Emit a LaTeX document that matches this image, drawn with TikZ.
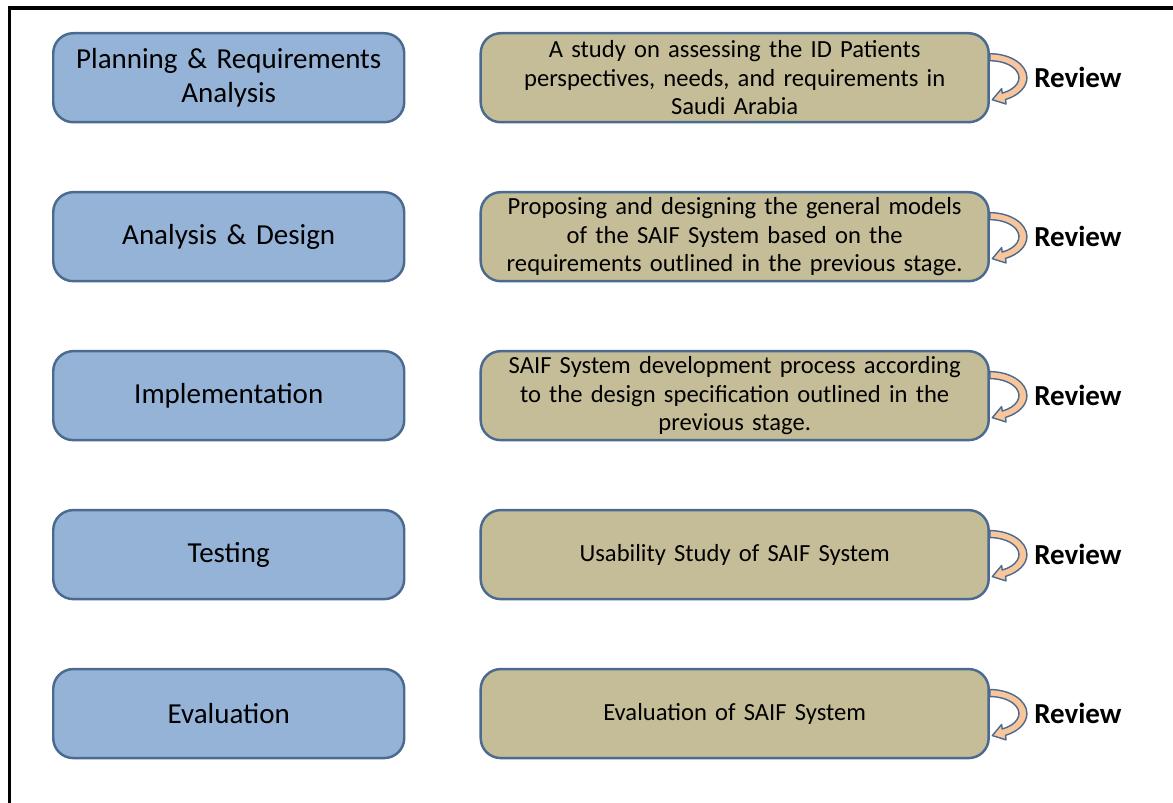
\documentclass[tikz,border=0pt]{standalone}
\usepackage{fontspec}
\setmainfont{Carlito}
\usetikzlibrary{positioning}
\definecolor{phaseblue}{HTML}{95B3D7}
\definecolor{taskfill}{HTML}{C4BD97}
\definecolor{edgeblue}{HTML}{4A6A8F}
\definecolor{loopfill}{HTML}{F8C69A}
\tikzset{phase/.style={draw=edgeblue,line width=1.4pt,fill=phaseblue,rounded corners=0.4cm,
    minimum height=1.78cm,text width=6.62cm,inner sep=0.2cm,align=center,
    font=\fontsize{16.5}{19}\selectfont}}
\tikzset{task/.style={draw=edgeblue,line width=1.4pt,fill=taskfill,rounded corners=0.4cm,
    minimum height=1.78cm,text width=9.76cm,inner xsep=0.2cm,inner ysep=0.05cm,align=center,
    font=\fontsize{14}{16.4}\selectfont}}
\tikzset{review/.style={inner sep=0pt,font=\fontsize{16.5}{19}\selectfont\bfseries}}
\newcommand{\reviewloop}[1]{%
  \begin{scope}[shift={(#1.east)},x=0.02cm,y=0.02cm]
    \filldraw[draw=edgeblue,fill=loopfill,line width=0.8pt,line join=round]
      (0,24) arc[start angle=90,end angle=-65,x radius=37,y radius=24]
      -- (16.1,-26.3) -- (2.4,-22) -- (11.7,-10.9) -- (12.3,-15.4)
      arc[start angle=-65,end angle=90,x radius=29,y radius=17] -- cycle;
  \end{scope}}

\begin{document}
\begin{tikzpicture}
  \useasboundingbox (0,0) rectangle (23.46,-16.06);
  % frame
  \draw[line width=2.2pt] (0.19,-16.06) -- (0.19,-0.16) -- (23.46,-0.16);
  % phases
  \node[phase,anchor=north west] (p1) at (1.04,-0.64) {Planning \& Requirements\\Analysis};
  \node[phase,below=1.35cm of p1] (p2) {Analysis \& Design};
  \node[phase,below=1.35cm of p2] (p3) {Implementation};
  \node[phase,below=1.35cm of p3] (p4) {Testing};
  \node[phase,below=1.35cm of p4] (p5) {Evaluation};
  % tasks
  \node[task,right=1.48cm of p1] (t1) {A study on assessing the ID Patients\\perspectives,\ needs,\ and requirements\ in\\Saudi Arabia};
  \node[task,right=1.48cm of p2] (t2) {Proposing and designing the general models\\of the SAIF System based on the\\requirements outlined in the previous stage.};
  \node[task,right=1.48cm of p3] (t3) {SAIF System development process according\\to the design specification outlined in the\\previous stage.};
  \node[task,right=1.48cm of p4] (t4) {Usability Study of SAIF System};
  \node[task,right=1.48cm of p5] (t5) {Evaluation of SAIF System};
  % reviews
  \foreach \i in {1,...,5}{
    \reviewloop{t\i}
    \node[review,right=0.88cm of t\i] (r\i) {Review};
  }
\end{tikzpicture}
\end{document}
